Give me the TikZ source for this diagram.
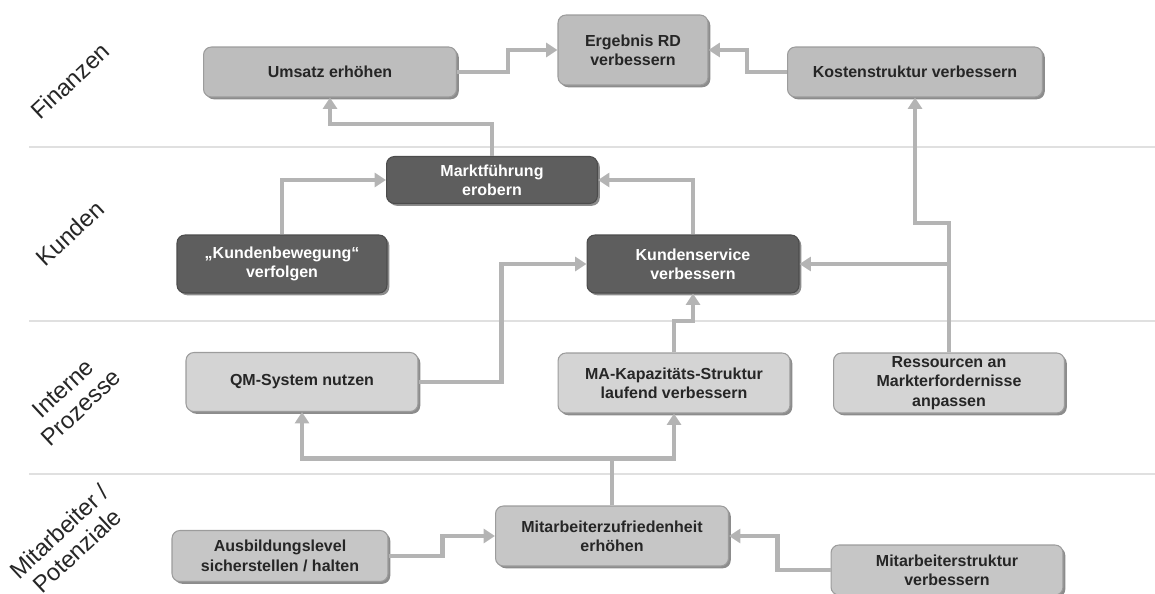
\documentclass[tikz,border=0pt]{standalone}
\usepackage{fontspec}
\setmainfont{Liberation Sans}
\usetikzlibrary{arrows.meta,shadows}
\definecolor{finfill}{HTML}{BDBDBD}
\definecolor{kunfill}{HTML}{5E5E5E}
\definecolor{profill}{HTML}{D4D4D4}
\definecolor{mitfill}{HTML}{C6C6C6}
\definecolor{boxline}{HTML}{9C9C9C}
\definecolor{linkgray}{HTML}{B4B4B4}
\tikzset{
	box/.style={draw=boxline, line width=0.6pt, rounded corners=4.5pt, align=center, inner sep=2pt,
		font=\fontsize{9.1}{11}\selectfont\bfseries, text=black!85,
		drop shadow={shadow xshift=1.3pt, shadow yshift=-1.3pt, fill=black!45, opacity=1}},
	finbox/.style={box, fill=finfill},
	kunbox/.style={box, fill=kunfill, draw=black!70, text=white},
	probox/.style={box, fill=profill},
	mitbox/.style={box, fill=mitfill},
	link/.style={draw=linkgray, line width=2.3pt, -{Triangle[length=6.5pt,width=8pt]}},
	sepline/.style={draw=black!12, line width=0.8pt},
	lane/.style={font=\fontsize{13.5}{15}\selectfont, text=black!85, align=center, rotate=43}
}

\begin{document}
\begin{tikzpicture}[x=0.02cm, y=-0.02cm]
			%%%%% START %%%%%
			
			\useasboundingbox (0, 0) rectangle (1155, 594);
			
			\draw[sepline] (29, 147) -- (1155, 147);
			\draw[sepline] (29, 321) -- (1155, 321);
			\draw[sepline] (29, 474) -- (1155, 474);
			
			\node[lane] (finanzen) at (70, 81) {Finanzen};
			\node[lane] (kunden) at (70, 233) {Kunden};
			\node[lane] (prozesse) at (72, 398) {Interne\\Prozesse};
			\node[lane] (potenziale) at (68, 541) {Mitarbeiter /\\Potenziale};
			
			\node[finbox, minimum width=5.06cm, minimum height=1.0cm] (umsatz) at (330, 72) {Umsatz erhöhen};
			\node[finbox, minimum width=3.0cm, minimum height=1.4cm] (ergebnis) at (633, 50) {Ergebnis RD\\verbessern};
			\node[finbox, minimum width=5.1cm, minimum height=1.0cm] (kosten) at (915, 72) {Kostenstruktur verbessern};
			
			\node[kunbox, minimum width=4.22cm, minimum height=0.94cm] (markt) at (492, 180) {Marktführung\\erobern};
			\node[kunbox, minimum width=4.2cm, minimum height=1.16cm] (bewegung) at (282, 264) {„Kundenbewegung“\\verfolgen};
			\node[kunbox, minimum width=4.24cm, minimum height=1.16cm] (service) at (693, 264) {Kundenservice\\verbessern};
			
			\node[probox, minimum width=4.64cm, minimum height=1.18cm] (qm) at (302, 382) {QM-System nutzen};
			\node[probox, minimum width=4.64cm, minimum height=1.2cm] (kapazitaet) at (674, 383) {MA-Kapazitäts-Struktur\\laufend verbessern};
			\node[probox, minimum width=4.62cm, minimum height=1.2cm] (ressourcen) at (949, 383) {Ressourcen an\\Markterfordernisse\\anpassen};
			
			\node[mitbox, minimum width=4.32cm, minimum height=1.02cm] (ausbildung) at (280, 556) {Ausbildungslevel\\sicherstellen / halten};
			\node[mitbox, minimum width=4.66cm, minimum height=1.2cm] (zufrieden) at (612, 536) {Mitarbeiterzufriedenheit\\erhöhen};
			\node[mitbox, minimum width=4.64cm, minimum height=1.0cm] (struktur) at (947, 570) {Mitarbeiterstruktur\\verbessern};
			
			\draw[link] (umsatz.east) -- ++(51, 0) |- (ergebnis.west);
			\draw[link] (kosten.west) -- ++(-40, 0) |- (ergebnis.east);
			\draw[link] (markt.north) -- ++(0, -32) -| (umsatz.south);
			\draw[link] (bewegung.north) |- (markt.west);
			\draw[link] (service.north) |- (markt.east);
			
			\draw[link] (ressourcen.north) -- ++(0, -129) -| (kosten.south);
			\draw[link] (ressourcen.north) |- (service.east);
			\draw[link] (qm.east) -- ++(83, 0) |- (service.west);
			\draw[link] (kapazitaet.north) -- ++(0, -31) -| (service.south);
			
			\draw[link] (zufrieden.north) -- ++(0, -47) -| (kapazitaet.south);
			\draw[link] (zufrieden.north) -- ++(0, -47) -| (qm.south);
			\draw[link] (ausbildung.east) -- ++(54, 0) |- (zufrieden.west);
			\draw[link] (struktur.west) -- ++(-53, 0) |- (zufrieden.east);
			
			%%%%% END %%%%%
\end{tikzpicture}
\end{document}
